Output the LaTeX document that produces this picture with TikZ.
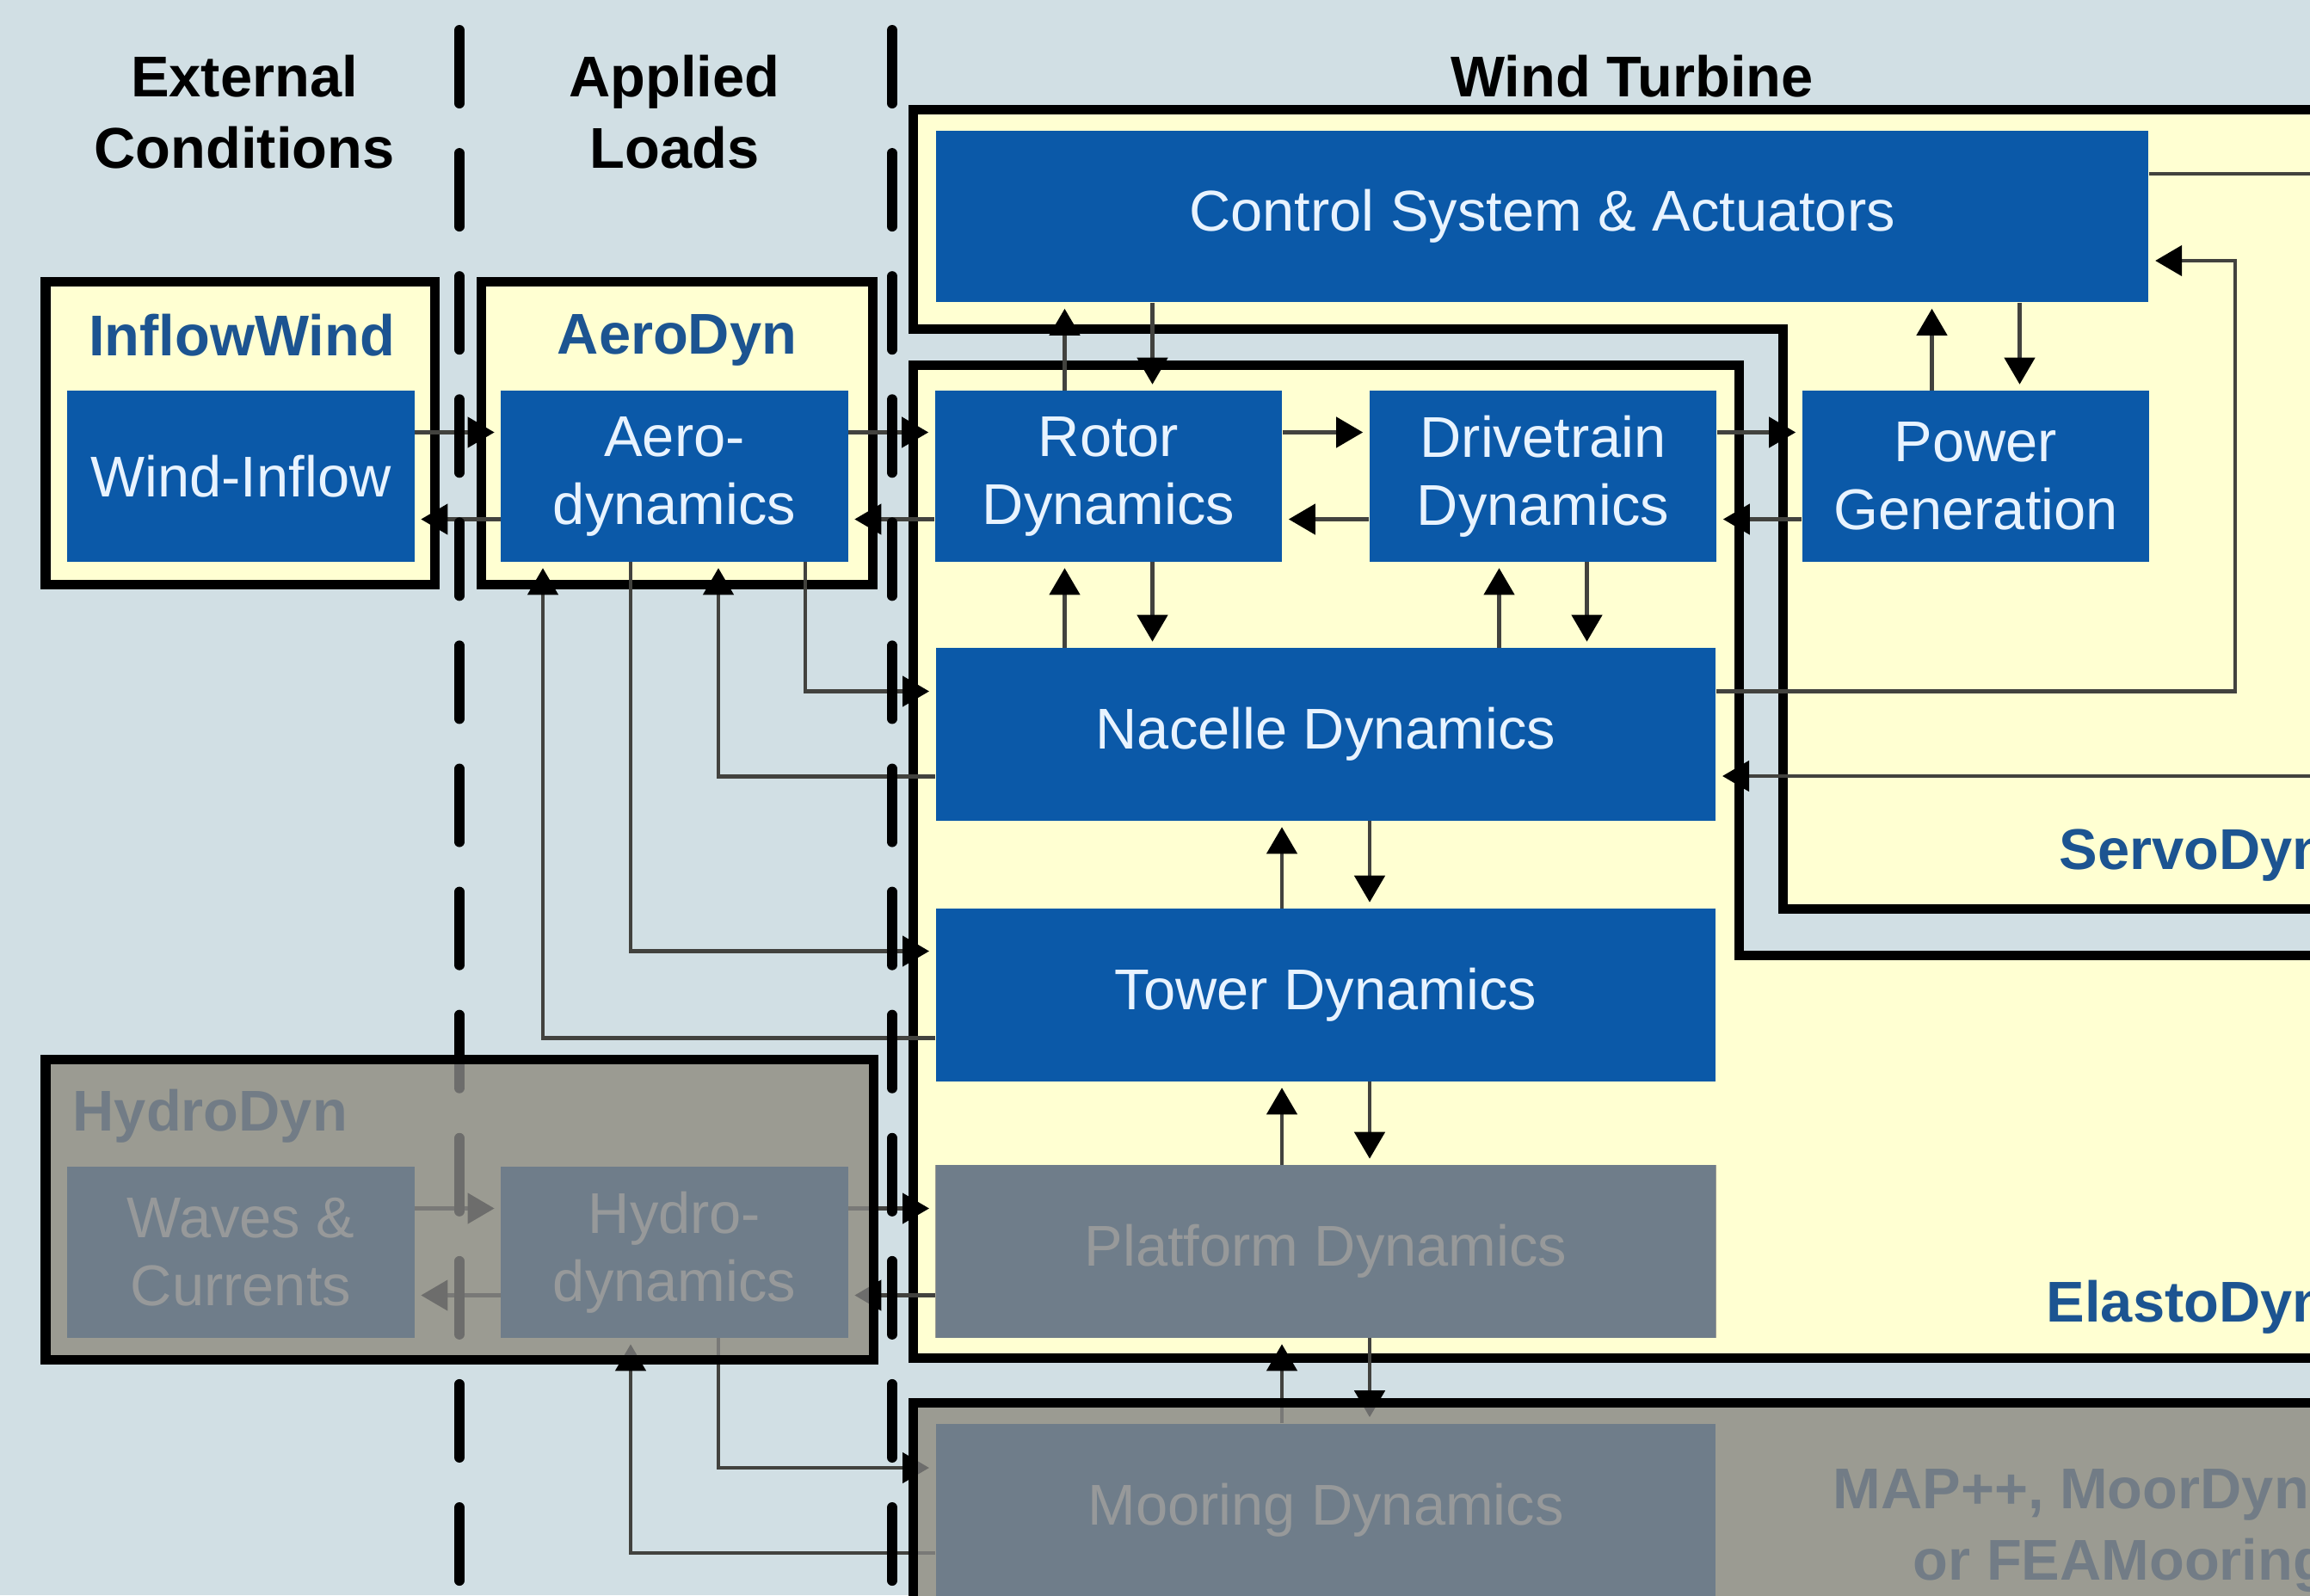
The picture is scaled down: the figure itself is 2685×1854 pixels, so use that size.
\documentclass[tikz,border=0pt]{standalone}
\usepackage{fontspec}
\setmainfont{Liberation Sans}
\usepackage{tikz}
\usetikzlibrary{arrows.meta, calc}
\usepackage{xcolor}

\definecolor{bgblue}{RGB}{209,223,228}
\definecolor{modyellow}{RGB}{255,255,210}
\definecolor{blkblue}{RGB}{11,89,168}
\definecolor{blktext}{RGB}{232,243,255}
\definecolor{titleblue}{RGB}{28,84,145}
\definecolor{greyout}{RGB}{134,134,132}
\definecolor{wirecol}{RGB}{66,66,62}

\tikzset{
  module/.style={draw=black, line width=0.11cm, fill=modyellow},
  block/.style={fill=blkblue, text=blktext, align=center, inner sep=0pt,
    font=\fontsize{19}{22.5}\selectfont},
  unit/.style={block, minimum width=4.03cm, minimum height=1.98cm},
  unitwide/.style={block, minimum width=9.06cm, minimum height=2.0cm},
  header/.style={align=center, font=\bfseries\fontsize{19}{23.5}\selectfont},
  modtitle/.style={text=titleblue, inner sep=0pt, font=\bfseries\fontsize{19}{23}\selectfont},
  plainlink/.style={draw=wirecol, line width=1.3pt},
  link/.style={plainlink, shorten >=0.07cm,
    -{Triangle[length=0.31cm, width=0.35cm, color=black]}},
  divider/.style={line width=0.12cm, line cap=round, dash pattern=on 0.85cm off 0.58cm},
  shade out/.style={fill=greyout, fill opacity=0.82},
}

\begin{document}
\begin{tikzpicture}[x=0.01cm, y=-0.01cm]
    \useasboundingbox (0,0) rectangle (2685,1854);
    \clip (0,0) rectangle (2685,1854);
    \fill[bgblue] (0,0) rectangle (2685,1854);

    \node[header] (hdext) at (284,130) {External\\Conditions};
    \node[header] (hdload) at (784,130) {Applied\\Loads};
    \node[header] (hdwt) at (1897,89) {Wind Turbine};

    \draw[module] (53,327) rectangle (505,679);
    \draw[module] (559,327) rectangle (1014,679);
    \draw[module] (53,1231) rectangle (1015,1580);
    \draw[module] (1061,127) -- (2720,127) -- (2720,1056) -- (2072,1056) -- (2072,382) -- (1061,382) -- cycle;
    \draw[module] (1061,424) -- (2021,424) -- (2021,1110) -- (2720,1110) -- (2720,1578) -- (1061,1578) -- cycle;
    \draw[module] (1061,1630) rectangle (2720,1900);

    \node[modtitle] (tinflow) at (281,390) {InflowWind};
    \node[modtitle] (taero) at (787,395) {AeroDyn};
    \node[modtitle, anchor=west] (thydro) at (84,1297) {HydroDyn};
    \node[modtitle, anchor=west] (tservo) at (2393,994) {ServoDyn};
    \node[modtitle, anchor=west] (telasto) at (2378,1519) {ElastoDyn};
    \node[modtitle, anchor=west] (tmoor) at (2130,1737) {MAP++, MoorDyn};
    \node[modtitle, anchor=west] (tfea) at (2223,1819) {or FEAMooring};

    \node[unit] (wind) at (280,553.5) {Wind-Inflow};
    \node[unit] (aero) at (784,553.5) {Aero-\\dynamics};
    \node[unit] (rotor) at (1288.5,553.5) {Rotor\\Dynamics};
    \node[unit] (drive) at (1793.5,553.5) {Drivetrain\\Dynamics};
    \node[unit] (power) at (2296.5,553.5) {Power\\Generation};
    \node[block, minimum width=14.09cm, minimum height=1.99cm] (control) at (1792.5,251.5) {Control System \& Actuators};
    \node[unitwide] (nacelle) at (1541,853.5) {Nacelle Dynamics};
    \node[unitwide] (tower) at (1541,1156.5) {Tower Dynamics};
    \node[unitwide] (platform) at (1541,1454.5) {Platform Dynamics};
    \node[unitwide] (mooring) at (1541,1755) {Mooring Dynamics};
    \node[unit] (waves) at (280,1455.5) {Waves \&\\Currents};
    \node[unit] (hydro) at (784,1455.5) {Hydro-\\dynamics};

    \foreach \a/\b in {wind/aero, aero/rotor, rotor/drive, drive/power, waves/hydro, hydro/platform}{
        \draw[link] ($(\a.east)+(0,-51)$) -- ($(\b.west |- \a.east)+(0,-51)$);
        \draw[link] ($(\b.west |- \a.east)+(0,50)$) -- ($(\a.east)+(0,50)$);
    }
    \foreach \u/\l/\c in {control/rotor/rotor, control/power/power, rotor/nacelle/rotor, drive/nacelle/drive,
                          nacelle/tower/tower, tower/platform/tower, platform/mooring/tower}{
        \draw[link] ($(\c.center |- \l.north)+(-51,0)$) -- ($(\c.center |- \u.south)+(-51,0)$);
        \draw[link] ($(\c.center |- \u.south)+(51,0)$) -- ($(\c.center |- \l.north)+(51,0)$);
    }

    \draw[link] ($(aero.south)+(152,0)$) |- ($(nacelle.west)+(0,-50)$);
    \draw[link] ($(nacelle.west)+(0,49)$) -| ($(aero.south)+(51,0)$);
    \draw[link] ($(aero.south)+(-51,0)$) |- ($(tower.west)+(0,-51)$);
    \draw[link] ($(tower.west)+(0,50)$) -| ($(aero.south)+(-153,0)$);
    \draw[link] ($(hydro.south)+(51,0)$) |- ($(mooring.west)+(0,-49)$);
    \draw[link] ($(mooring.west)+(0,50)$) -| ($(hydro.south)+(-51,0)$);

    \coordinate (fbk) at (2598,303);
    \coordinate (ctrlout) at (2700,202);
    \coordinate (nacin) at (2700,902);
    \draw[link] ($(nacelle.east)+(0,-50)$) -| (fbk) -- ($(control.east)+(0,51.5)$);
    \draw[plainlink] ($(control.east)+(0,-49.5)$) -- (ctrlout);
    \draw[link] (nacin) -- ($(nacelle.east)+(0,48.5)$);

    \draw[divider] (534,35) -- (534,1900);
    \draw[divider] (1037,35) -- (1037,1900);

    \fill[shade out] (53,1231) rectangle (1015,1580);
    \fill[shade out] (platform.south west) rectangle (platform.north east);
    \fill[shade out] (1061,1630) rectangle (2720,1900);
    \draw[line width=0.11cm] (53,1231) rectangle (1015,1580);
    \draw[line width=0.11cm] (1061,1900) -- (1061,1630) -- (2720,1630);
\end{tikzpicture}
\end{document}
